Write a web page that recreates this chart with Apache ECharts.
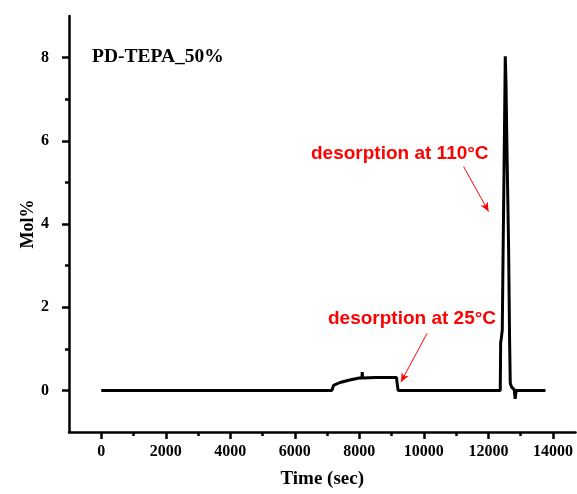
<!DOCTYPE html>
<html lang="en" style="height: 100%">
<head>
  <meta charset="UTF-8">
  <title>PD-TEPA_50%</title>
  <script src="https://cdn.jsdelivr.net/npm/echarts@6.0.0/dist/echarts.min.js"></script>
</head>
<body style="height: 100%; margin: 0; background: #fff">
  <div id="container" style="width: 577px; height: 494px"></div>
  <script>
    // time (sec) and Mol%
    var timeSec = [0, 7150, 7200, 7400, 7700, 8000, 8080, 8090, 8100, 8500, 9150, 9200,
      12368, 12380, 12400, 12430, 12452, 12492, 12523, 12545, 12576, 12626, 12657, 12678,
      12720, 12800, 12830, 12860, 13770];
    var molPct = [0, 0, 0.12, 0.19, 0.25, 0.3, 0.3, 0.44, 0.3, 0.31, 0.31, 0,
      0, 1.15, 1.25, 1.45, 3.06, 5.78, 8.03, 7.4, 5.78, 3.45, 1.2, 0.17,
      0.08, 0.02, -0.2, 0, 0];

    var xMajor = [0, 2000, 4000, 6000, 8000, 10000, 12000, 14000];
    var xMinor = [1000, 3000, 5000, 7000, 9000, 11000, 13000];
    var yMajor = [0, 2, 4, 6, 8];
    var yMinor = [1, 3, 5, 7];

    var arrow110 = [[11231, 5.38], [12006, 4.30]];
    var arrow25 = [[10096, 1.37], [9290, 0.2]];

    var dom = document.getElementById('container');
    var chart = echarts.init(dom);

    var serif = '"Liberation Serif", "Times New Roman", serif';
    var sans = '"Liberation Sans", Arial, sans-serif';

    var points = timeSec.map(function (t, i) { return [t, molPct[i]]; });

    var baseX = {
      type: 'value', min: -1000, max: 14700, position: 'bottom', splitLine: { show: false }
    };
    var baseY = {
      type: 'value', min: -1, max: 9, position: 'left', splitLine: { show: false }
    };
    var plain = function (v) { return String(v); };

    var option = {
      animation: false,
      grid: { left: 69, right: 1.5, top: 16, bottom: 62 },
      xAxis: [
        Object.assign({}, baseX, {
          name: 'Time (sec)',
          nameLocation: 'middle',
          nameGap: 38,
          nameMoveOverlap: false,
          nameTextStyle: { fontFamily: serif, fontWeight: 'bold', fontSize: 19, color: '#000' },
          axisLine: { show: true, onZero: false, lineStyle: { color: '#000', width: 2.5 } },
          axisTick: { show: true, customValues: xMajor, length: 7, lineStyle: { color: '#000', width: 2.5 } },
          axisLabel: {
            customValues: xMajor, margin: 12, formatter: plain,
            fontFamily: serif, fontWeight: 'bold', fontSize: 16, color: '#000'
          }
        }),
        Object.assign({}, baseX, {
          axisLine: { show: false, onZero: false },
          axisTick: { show: true, customValues: xMinor, length: 4, lineStyle: { color: '#000', width: 2.5 } },
          axisLabel: { show: false }
        })
      ],
      yAxis: [
        Object.assign({}, baseY, {
          name: 'Mol%',
          nameLocation: 'middle',
          nameGap: 32,
          nameMoveOverlap: false,
          nameTextStyle: { fontFamily: serif, fontWeight: 'bold', fontSize: 18, color: '#000' },
          axisLine: { show: true, onZero: false, lineStyle: { color: '#000', width: 2.5 } },
          axisTick: { show: true, customValues: yMajor, length: 7, lineStyle: { color: '#000', width: 2.5 } },
          axisLabel: {
            customValues: yMajor, margin: 20, formatter: plain,
            fontFamily: serif, fontWeight: 'bold', fontSize: 16, color: '#000'
          }
        }),
        Object.assign({}, baseY, {
          axisLine: { show: false, onZero: false },
          axisTick: { show: true, customValues: yMinor, length: 4, lineStyle: { color: '#000', width: 2.5 } },
          axisLabel: { show: false }
        })
      ],
      graphic: [
        {
          type: 'text', left: 92, top: 47,
          style: { text: 'PD-TEPA_50%', font: 'bold 19.5px ' + serif, fill: '#000' }
        },
        {
          type: 'text', left: 311, top: 144,
          style: { text: 'desorption at 110°C', font: 'bold 19px ' + sans, fill: '#ff0000' }
        },
        {
          type: 'text', left: 328, top: 309,
          style: { text: 'desorption at 25°C', font: 'bold 19px ' + sans, fill: '#ff0000' }
        }
      ],
      series: [
        {
          type: 'line',
          data: points,
          showSymbol: false,
          lineStyle: { color: '#000', width: 3 },
          markLine: {
            silent: true,
            symbol: ['none', 'arrow'],
            symbolSize: [6, 9],
            label: { show: false },
            lineStyle: { color: '#ff0000', width: 1, type: 'solid' },
            data: [
              [{ coord: arrow110[0] }, { coord: arrow110[1] }],
              [{ coord: arrow25[0] }, { coord: arrow25[1] }]
            ]
          }
        }
      ]
    };

    chart.setOption(option);
  </script>
</body>
</html>
